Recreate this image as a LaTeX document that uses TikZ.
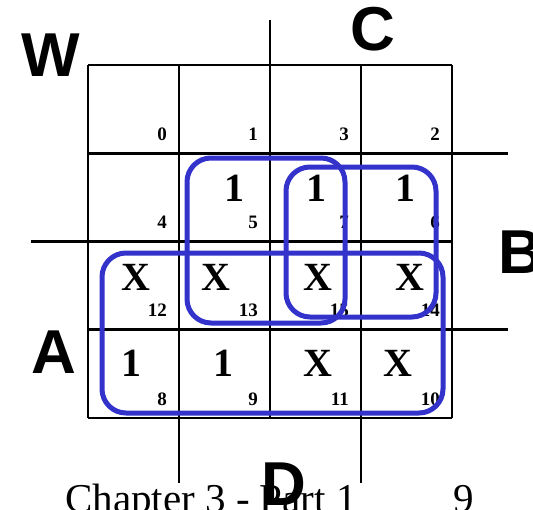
\documentclass[tikz,border=0pt]{standalone}
\usepackage{fontspec}
\setmainfont{Liberation Serif}
\setsansfont{Liberation Sans}
\definecolor{loopblue}{RGB}{51,51,204}
\tikzset{
	entry/.style={font=\bfseries\fontsize{40}{40}\selectfont, inner sep=0pt},
	cellno/.style={font=\bfseries\fontsize{19}{19}\selectfont, inner sep=0pt, anchor=base east},
	varname/.style={font=\sffamily\bfseries\fontsize{62}{62}\selectfont, inner sep=0pt},
	kgroup/.style={draw=loopblue, line width=5pt, rounded corners=24pt},
	gridline/.style={line width=2.6pt},
}
\begin{document}
\begin{tikzpicture}[x=1pt, y=-1pt]
		\useasboundingbox (0,0) rectangle (533,509);

		% Map corners and cell size
		\def\gx{88}
		\def\gy{65}
		\def\cw{91}
		\def\ch{88.25}
		\pgfmathsetmacro{\gxr}{\gx+4*\cw}
		\pgfmathsetmacro{\gyb}{\gy+4*\ch}

		% Grid
		\foreach \i in {0,...,4} {
			\draw[gridline] (\gx+\i*\cw,\gy) -- (\gx+\i*\cw,\gyb);
			\draw[gridline] (\gx,\gy+\i*\ch) -- (\gxr,\gy+\i*\ch);
		}

		% Variable bars outside the map
		\draw[gridline] (\gx+2*\cw,20) -- (\gx+2*\cw,\gy);             % C
		\draw[gridline] (\gxr,\gy+\ch) -- (508,\gy+\ch);               % B
		\draw[gridline] (\gxr,\gy+3*\ch) -- (508,\gy+3*\ch);
		\draw[gridline] (31,\gy+2*\ch) -- (\gx,\gy+2*\ch);             % A
		\draw[gridline] (\gx+\cw,\gyb) -- (\gx+\cw,483);               % D
		\draw[gridline] (\gx+3*\cw,\gyb) -- (\gx+3*\cw,483);

		% Minterm numbers (Gray code order)
		\foreach \m [count=\k from 0] in {0,1,3,2,4,5,7,6,12,13,15,14,8,9,11,10} {
			\pgfmathtruncatemacro{\r}{int(\k/4)}
			\pgfmathtruncatemacro{\c}{mod(\k,4)}
			\node[cellno] (m\m) at (\gx+\c*\cw+\cw-12,\gy+\r*\ch+\ch-13) {\m};
		}

		% Map entries
		\node[entry] (e5) at (234,188) {1};
		\node[entry] (e7) at (316,188) {1};
		\node[entry] (e6) at (405,188) {1};
		\node[entry] (e12) at (136,277) {X};
		\node[entry] (e13) at (216,277) {X};
		\node[entry] (e15) at (318,277) {X};
		\node[entry] (e14) at (410,277) {X};
		\node[entry] (e8) at (131,363) {1};
		\node[entry] (e9) at (223,363) {1};
		\node[entry] (e11) at (318,363) {X};
		\node[entry] (e10) at (398,363) {X};

		% Groupings
		\draw[kgroup] (187,158) rectangle (345,323);
		\draw[kgroup] (286,167) rectangle (436,317);
		\draw[kgroup] (102,253) rectangle (443,413);

		% Variable names
		\node[varname] (w) at (51,55) {W};
		\node[varname] (c) at (373,29) {C};
		\node[varname] (b) at (521,252) {B};
		\node[varname] (a) at (54,352) {A};
		\node[varname] (d) at (284,484) {D};

		% Slide footer
		\node[anchor=base west, inner sep=0pt, font=\fontsize{41}{41}\selectfont] (footer) at (65,512) {Chapter 3 - Part 1};
		\node[anchor=base west, inner sep=0pt, font=\fontsize{41}{41}\selectfont] (pageno) at (453,512) {9};

	\end{tikzpicture}
\end{document}
